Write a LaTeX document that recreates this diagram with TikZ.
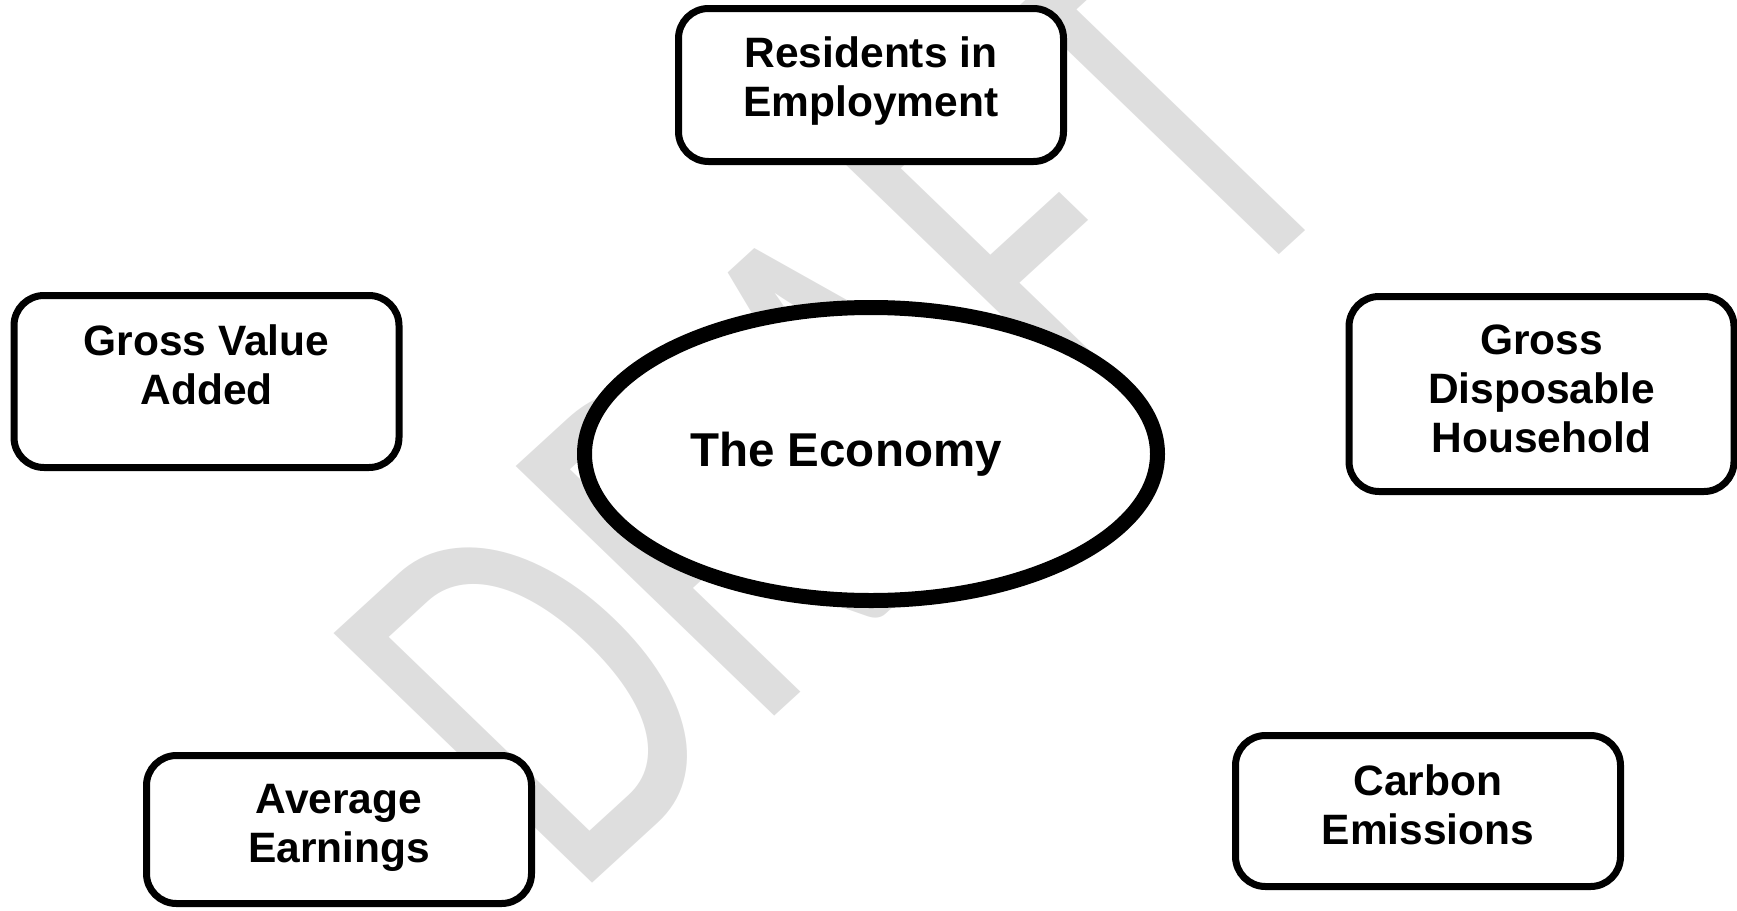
\documentclass[tikz,border=0pt]{standalone}
\usepackage{fontspec}
\setmainfont{Liberation Sans}
\newfontfamily\wmfont{Carlito}
\usepackage{tikz}
\usetikzlibrary{positioning,shapes}
\definecolor{wmgray}{HTML}{DEDEDE}
\tikzset{
    box/.style={draw, rounded corners=30pt, line width=7pt, fill=white, minimum width=385pt, inner sep=0pt},
    box text/.style={font=\fontsize{42.5}{49}\selectfont\bfseries, align=center, inner sep=0pt},
    hub/.style={ellipse, draw, line width=15pt, fill=white, minimum width=573pt, minimum height=293pt, inner sep=0pt},
    hub text/.style={font=\fontsize{47.5}{55}\selectfont\bfseries, inner sep=0pt},
    watermark/.style={text=wmgray, font=\wmfont\fontsize{100}{100}\selectfont, inner sep=0pt, transform shape}
}

\begin{document}
\begin{tikzpicture}[x=1pt, y=1pt]
    \useasboundingbox (0,0) rectangle (1737,-910);

    % Watermark
    \begin{scope}[shift={(839,-414)}, cm={2.95,2.70,-4.03,3.89,(0,0)}]
        \node[watermark] (draft) at (0,0) {DRAFT};
    \end{scope}

    % Centre
    \node[hub] (econ) at (871,-454) {};
    \node[hub text] (econ-t) at ([xshift=-25pt]econ.center) {The Economy};

    % Boxes
    \node[box, minimum height=153pt] (emp) at (871,-85) {};
    \node[box, minimum height=172pt] (gva) at (206.5,-381.5) {};
    \node[box, minimum height=195pt] (gdh) at (1541.5,-394) {};
    \node[box, minimum height=148pt] (earn) at (339,-829.5) {};
    \node[box, minimum height=151pt] (carbon) at (1428,-811) {};

    % Box texts
    \node[box text, below=32pt of emp.north] (emp-t) {Residents in\\Employment};
    \node[box text, below=32pt of gva.north] (gva-t) {Gross Value\\Added};
    \node[box text, below=32pt of gdh.north] (gdh-t) {Gross\\Disposable\\Household};
    \node[box text, below=32pt of earn.north] (earn-t) {Average\\Earnings};
    \node[box text, below=32pt of carbon.north] (carbon-t) {Carbon\\Emissions};

\end{tikzpicture}
\end{document}
